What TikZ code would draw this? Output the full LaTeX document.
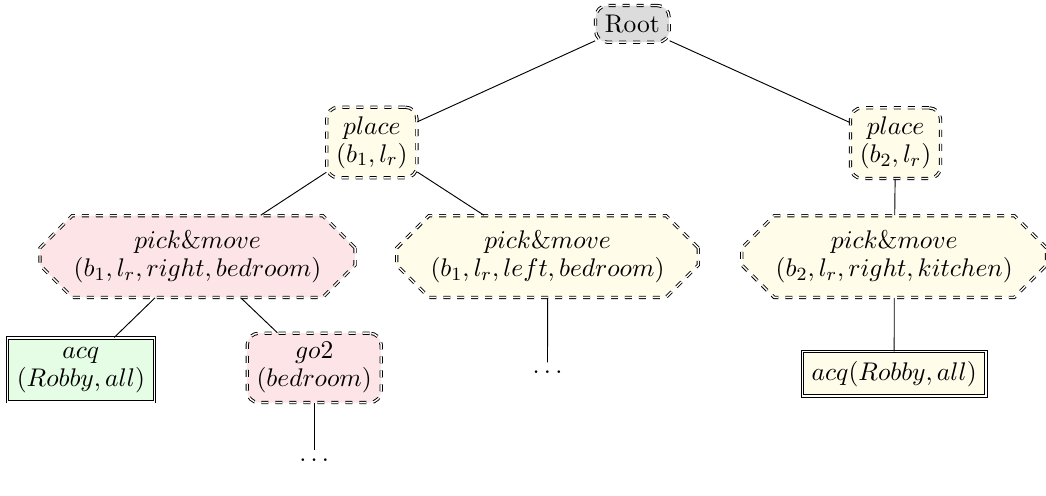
\documentclass[tikz,border=0pt]{standalone}
\usepackage{amssymb}
\usepackage{tikz}
\usetikzlibrary{shapes.misc}
\definecolor{rootgray}{HTML}{DCDCDC}
\definecolor{openyellow}{HTML}{FFFCE9}
\definecolor{chosenred}{HTML}{FDE5E7}
\definecolor{donegreen}{HTML}{E5FCE5}
\tikzset{every node/.style={font=\fontsize{10.95}{12}\selectfont}}
\tikzset{task/.style={draw, double, dashed, rounded corners=5pt, align=center, inner sep=4pt}}
\tikzset{method/.style={draw, double, dashed, chamfered rectangle, chamfered rectangle xsep=11pt, align=center, inner sep=3.5pt}}
\tikzset{action/.style={draw, double, align=center, inner sep=4pt}}

\begin{document}
\begin{tikzpicture}
\useasboundingbox (0,0) rectangle (15.78,-7.48);

\node[task, fill=rootgray] (root) at (9.54,-0.36) {Root};

\node[task, fill=openyellow] (place1) at (5.61,-2.15) {$place$\\$(b_1,l_r)$};
\node[task, fill=openyellow] (place2) at (13.51,-2.16) {$place$\\$(b_2,l_r)$};

\node[method, fill=chosenred] (pm1) at (2.98,-3.87) {$pick\&move$\\$(b_1,l_r,right,bedroom)$};
\node[method, fill=openyellow] (pm2) at (8.26,-3.87) {$pick\&move$\\$(b_1,l_r,left,bedroom)$};
\node[method, fill=openyellow] (pm3) at (13.49,-3.87) {$pick\&move$\\$(b_2,l_r,right,kitchen)$};

\node[action, fill=donegreen] (acq1) at (1.22,-5.58) {$acq$\\$(Robby,all)$};
\node[task, fill=chosenred] (go2) at (4.74,-5.55) {$go2$\\$(bedroom)$};
\node (dots1) at (8.26,-5.61) {$\dots$};
\node[action, fill=openyellow] (acq2) at (13.49,-5.64) {$acq(Robby,all)$};
\node (dots2) at (4.74,-6.94) {$\dots$};

\draw (root) -- (place1);
\draw (root) -- (place2);
\draw (place1) -- (pm1);
\draw (place1) -- (pm2);
\draw (place2) -- (pm3);
\draw (pm1) -- (acq1);
\draw (pm1) -- (go2);
\draw (pm2) -- (dots1);
\draw (pm3) -- (acq2);
\draw (go2) -- (dots2);
\end{tikzpicture}
\end{document}
